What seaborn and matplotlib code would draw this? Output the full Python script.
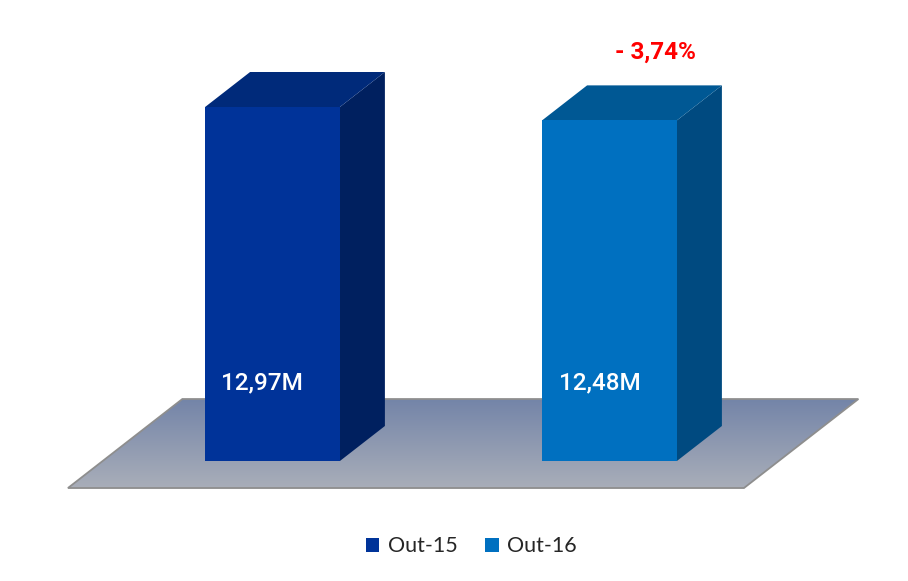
import numpy as np
import pandas as pd
import matplotlib
matplotlib.use("Agg")
import matplotlib.pyplot as plt
import seaborn as sns
from matplotlib.patches import Polygon, Rectangle
from matplotlib.colors import LinearSegmentedColormap

# Monthly totals (millions) for October of each year
periods = ["Out-15", "Out-16"]
values = [12.97, 12.48]
value_labels = ["12,97M", "12,48M"]
change_label = "- 3,74%"

front_colors = ["#003399", "#0070C0"]
side_colors = ["#00205F", "#004A80"]
top_colors = ["#002A7A", "#005894"]

sns.set_theme(style="white")
plt.rcParams["font.family"] = ["Roboto", "DejaVu Sans"]

W, H = 908, 581
fig = plt.figure(figsize=(W / 100, H / 100), dpi=100)
ax = fig.add_axes([0, 0, 1, 1])

df = pd.DataFrame({"period": periods, "value": values})
sns.barplot(data=df, x="period", y="value", hue="period", palette=front_colors,
            width=0.4, saturation=1, legend=False, linewidth=0, ax=ax, zorder=4)

# Axis scale: pixels per unit along each direction
px_x = 337.0
px_y = 354.0 / 12.97
x0_px, base_px = 272.5, 461.0
ax.set_xlim(-x0_px / px_x, (W - x0_px) / px_x)
ax.set_ylim(-(H - base_px) / px_y, base_px / px_y)
ax.set_axis_off()

# Oblique depth of the 3D extrusion (in data units)
dx = 45.0 / px_x
dy = 35.0 / px_y

# Floor plane: parallelogram receding with the same oblique direction
floor_left, floor_right, floor_front = -0.607, 1.399, -0.99
depth_k = 89.0 / 35.0
floor_pts = [
    (floor_left, floor_front),
    (floor_right, floor_front),
    (floor_right + depth_k * dx, floor_front + depth_k * dy),
    (floor_left + depth_k * dx, floor_front + depth_k * dy),
]
floor_poly = Polygon(floor_pts, closed=True, facecolor="none",
                     edgecolor="#8e8e8e", linewidth=1.3, zorder=2)
ax.add_patch(floor_poly)
cmap = LinearSegmentedColormap.from_list("floor", ["#a9aeb9", "#7384a8"])
grad = np.linspace(0, 1, 256).reshape(-1, 1)
ys = [p[1] for p in floor_pts]
xs = [p[0] for p in floor_pts]
img = ax.imshow(grad, cmap=cmap, origin="lower", aspect="auto",
                extent=[min(xs), max(xs), min(ys), max(ys)], zorder=1)
img.set_clip_path(floor_poly)
ax.set_xlim(-x0_px / px_x, (W - x0_px) / px_x)
ax.set_ylim(-(H - base_px) / px_y, base_px / px_y)

# Side and top faces for each bar
bars = [p for p in ax.patches if isinstance(p, Rectangle) and p.get_height() > 0]
bars.sort(key=lambda r: r.get_x())
for i, bar in enumerate(bars):
    bx, bw, bh = bar.get_x(), bar.get_width(), bar.get_height()
    side = [(bx + bw, 0), (bx + bw + dx, dy), (bx + bw + dx, bh + dy), (bx + bw, bh)]
    top = [(bx, bh), (bx + bw, bh), (bx + bw + dx, bh + dy), (bx + dx, bh + dy)]
    ax.add_patch(Polygon(side, closed=True, facecolor=side_colors[i],
                         edgecolor="none", zorder=3))
    ax.add_patch(Polygon(top, closed=True, facecolor=top_colors[i],
                         edgecolor="none", zorder=3))
    ax.text(bx + bw / 2 - 0.03, 2.86, value_labels[i], color="white",
            ha="center", va="center", fontsize=17.5, fontweight="medium", zorder=5)

# Year-over-year change above the second bar
ax.text(bars[1].get_x() + bars[1].get_width() / 2 + 0.135, values[1] + 2.5,
        change_label, color="#FF0000", fontsize=17.5, fontweight="bold",
        ha="center", va="center", zorder=5)

handles = [Rectangle((0, 0), 1, 1, facecolor=c, edgecolor="none") for c in front_colors]
fig.legend(handles, periods, loc="center", bbox_to_anchor=(0.519, 0.06), ncol=2,
           frameon=False, handlelength=0.62, handleheight=0.62, handletextpad=0.4,
           columnspacing=1.3, prop={"family": ["Lato", "DejaVu Sans"], "size": 15.5},
           labelcolor="#262626")

fig.savefig("out.png", dpi=100, facecolor="white")
